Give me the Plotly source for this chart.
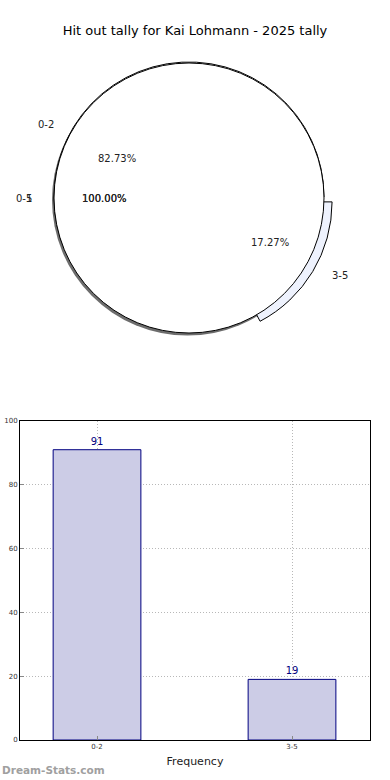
import numpy as np
import plotly.graph_objects as go

# ---------------- data ----------------
title = "Hit out tally for Kai Lohmann - 2025 tally"
categories = ["0-2", "3-5"]
counts = [91, 19]
total_labels = ["0-5", "1"]          # overlaid single-slice pies
total_values = [1]
pie_colors = ["#ffffff", "#eef2fd"]
pie_pull = [0, 0.07]
yticks = [0, 20, 40, 60, 80, 100]

# ---------------- layout helpers ----------------
W, H = 390, 780
ML, MR, MT, MB = 20, 20, 0, 40
PW, PH = W - ML - MR, H - MT - MB


def px2x(px):
    return (px - ML) / PW


def py2y(py):
    return (H - MB - py) / PH


cx, cy = 189, 198      # pie centre (px)
R = 135                # pie radius (px)
rx, ry = 141, 129      # text placement radii (px)
FONT = "DejaVu Sans"


def dom(half, dx=0, dy=0):
    return dict(x=[px2x(cx + dx - half), px2x(cx + dx + half)],
                y=[py2y(cy + dy + half), py2y(cy + dy - half)])


fig = go.Figure()

# shadow
fig.add_trace(go.Pie(values=total_values, labels=["shadow"], sort=False,
                     marker=dict(colors=["rgba(60,60,60,0.75)"], line=dict(width=0)),
                     textinfo="none", hoverinfo="skip", showlegend=False,
                     domain=dom(R + 0.5, dx=-1.5, dy=2)))

# colored pie with exploded slice (plotly's counterclockwise mode puts the first
# slice clockwise of the start line, so pass slices in reverse order)
fig.add_trace(go.Pie(values=counts[::-1], labels=categories[::-1], sort=False,
                     direction="counterclockwise", rotation=90,
                     pull=pie_pull[::-1],
                     marker=dict(colors=pie_colors[::-1], line=dict(color="black", width=1)),
                     textinfo="none", hoverinfo="label+percent", showlegend=False,
                     domain=dom(R * (1 + max(pie_pull)), dy=-1)))

# white overlaid 100% pie
fig.add_trace(go.Pie(values=total_values, labels=[total_labels[0]], sort=False,
                     marker=dict(colors=["#ffffff"], line=dict(color="black", width=1)),
                     textinfo="none", hoverinfo="label+percent", showlegend=False,
                     domain=dom(R)))

# ---------------- pie text (matplotlib-like placement) ----------------
ann = []
vals = np.array(counts, dtype=float)
fr = vals / vals.sum()
start = 0.0
for lab, f, e in zip(categories, fr, pie_pull):
    mid = np.deg2rad(start + f * 360 / 2)
    start += f * 360
    c, s = np.cos(mid), np.sin(mid)
    ann.append(dict(x=px2x(cx + (1.1 + e) * rx * c), y=py2y(cy - (1.1 + e) * ry * s),
                    text=lab, xanchor="right" if c < 0 else "left", yanchor="middle"))
    ann.append(dict(x=px2x(cx + (0.6 + e) * rx * c), y=py2y(cy - (0.6 + e) * ry * s),
                    text=f"{100 * f:.2f}%", xanchor="center", yanchor="middle"))
for lab in total_labels:
    mid = np.deg2rad(180)
    c, s = np.cos(mid), np.sin(mid)
    ann.append(dict(x=px2x(cx + 1.1 * rx * c), y=py2y(cy - 1.1 * ry * s),
                    text=lab, xanchor="right", yanchor="middle"))
    ann.append(dict(x=px2x(cx + 0.6 * rx * c), y=py2y(cy - 0.6 * ry * s),
                    text=f"{100 * total_values[0] / sum(total_values):.2f}%",
                    xanchor="center", yanchor="middle"))
for a in ann:
    a.update(xref="paper", yref="paper", showarrow=False,
             font=dict(family=FONT, size=10, color="#222"))

# ---------------- bar chart ----------------
fig.add_trace(go.Bar(x=categories, y=counts, width=0.45,
                     marker=dict(color="rgb(204,204,230)", line=dict(color="navy", width=1)),
                     text=[str(v) for v in counts], textposition="outside",
                     textfont=dict(family=FONT, size=10, color="navy"),
                     cliponaxis=False, showlegend=False))

ann.append(dict(x=px2x(0), y=py2y(770), xref="paper", yref="paper", showarrow=False,
                text="<b>Dream-Stats.com</b>", xanchor="left", yanchor="middle",
                font=dict(family=FONT, size=10.5, color="#a0a0a0")))

GRID = dict(showgrid=True, gridcolor="#b8b8b8", griddash="1px,2px", gridwidth=1)

fig.update_layout(
    width=W, height=H,
    margin=dict(l=ML, r=MR, t=MT, b=MB, autoexpand=False),
    paper_bgcolor="white", plot_bgcolor="white",
    font=dict(family=FONT, color="#222"),
    title=dict(text=title, x=0.5, xanchor="center", xref="container",
               y=1 - 30 / H, yanchor="middle", yref="container",
               font=dict(family=FONT, size=13, color="black")),
    annotations=ann,
    xaxis=dict(domain=[0, 1], range=[-0.395, 1.4], type="category", automargin=False,
               showline=True, mirror=True, linecolor="black", linewidth=1,
               ticks="inside", ticklen=4, tickcolor="#888",
               tickfont=dict(size=7, color="#333"),
               title=dict(text="Frequency", font=dict(size=11, color="#222"), standoff=6),
               **GRID),
    yaxis=dict(domain=[0, py2y(421)], range=[0, 100], tickvals=yticks, automargin=False,
               showline=True, mirror=True, linecolor="black", linewidth=1,
               ticks="inside", ticklen=4, tickcolor="#888",
               tickfont=dict(size=7, color="#333"),
               zeroline=False, **GRID),
)

fig.write_html("out.html", config={"displayModeBar": False},
               post_script="document.body.style.margin='0';document.body.style.overflow='hidden';")
